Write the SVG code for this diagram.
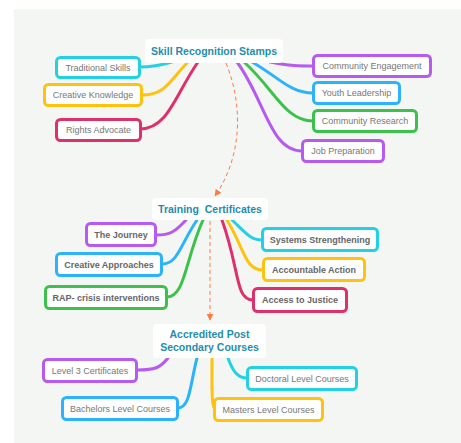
<svg xmlns="http://www.w3.org/2000/svg" width="461" height="443" viewBox="0 0 461 443">
<style>
.bg{fill:#f4f6f4}
.root{fill:#ffffff}
.rt{font-family:"Liberation Sans",Arial,sans-serif;font-size:10.5px;font-weight:bold;fill:#1f8dad;text-anchor:middle}
.box{fill:#ffffff;stroke-width:3}
.t{font-family:"Liberation Sans",Arial,sans-serif;font-size:9px;fill:#777777;text-anchor:middle}
.tb{font-family:"Liberation Sans",Arial,sans-serif;font-size:9px;font-weight:bold;fill:#666666;text-anchor:middle}
.c{fill:none;stroke-width:3;stroke-linecap:round}
.cyan{stroke:#22d2e4}.blue{stroke:#2db3fb}.yellow{stroke:#ffc20e}.pink{stroke:#e0306c}.purple{stroke:#b75bf0}.green{stroke:#3cc24c}
.dash{fill:none;stroke:#ff7a45;stroke-width:1;stroke-dasharray:4 3}
</style>
<defs>
<marker id="ah" viewBox="0 0 10 10" refX="9" refY="5" markerWidth="7" markerHeight="7" orient="auto" markerUnits="userSpaceOnUse">
<path d="M0,0 L10,5 L0,10 z" fill="#ff7a45"/>
</marker>
</defs>
<rect class="bg" x="14" y="9" width="447" height="434"/>
<g id="connectors">
<path class="c cyan" d="M172,62 C158,66 152,67 140,67"/>
<path class="c yellow" d="M188,62 C170,80 166,95 142,95"/>
<path class="c pink" d="M198,62 C175,95 168,129 140,129"/>
<path class="c purple" d="M270,62 C290,66 300,66 313,66"/>
<path class="c blue" d="M252,62 C280,78 290,93 313,93"/>
<path class="c green" d="M244,62 C275,90 285,121 313,121"/>
<path class="c purple" d="M237,62 C265,100 270,151 302,151"/>
<path class="dash" d="M226,63 C245,110 240,160 215,196" marker-end="url(#ah)"/>
<path class="c purple" d="M186,220 C175,232 170,235 156,235"/>
<path class="c blue" d="M197,220 C180,245 178,264 162,264"/>
<path class="c green" d="M203,220 C185,260 185,297 167,297"/>
<path class="c cyan" d="M232,220 C245,232 250,240 262,240"/>
<path class="c yellow" d="M227,220 C245,250 245,270 263,270"/>
<path class="c pink" d="M222,220 C240,270 235,300 253,300"/>
<path class="dash" d="M210,221 L210,320" marker-end="url(#ah)"/>
<path class="c purple" d="M168,358 C160,368 155,370 137,370"/>
<path class="c blue" d="M197,358 C190,385 190,408 178,408"/>
<path class="c yellow" d="M212,358 C212,385 211,410 216,410"/>
<path class="c cyan" d="M228,358 C233,372 238,378 247,378"/>
</g>
<g id="n-skill">
<rect class="root" x="145" y="39" width="138" height="24" rx="4"/>
<text class="rt" x="214" y="54.5">Skill Recognition Stamps</text>
</g>
<g id="n-traditional">
<rect class="box cyan" x="56.5" y="57.5" width="83" height="20" rx="4"/>
<text class="t" x="98" y="70.5">Traditional Skills</text>
</g>
<g id="n-creative-knowledge">
<rect class="box yellow" x="44.5" y="84.5" width="97" height="21" rx="4"/>
<text class="t" x="93" y="98">Creative Knowledge</text>
</g>
<g id="n-rights">
<rect class="box pink" x="56.5" y="119.5" width="84" height="21" rx="4"/>
<text class="t" x="98.5" y="133">Rights Advocate</text>
</g>
<g id="n-community-engagement">
<rect class="box purple" x="313.5" y="55.5" width="117" height="21" rx="4"/>
<text class="t" x="372" y="69">Community Engagement</text>
</g>
<g id="n-youth">
<rect class="box blue" x="313.5" y="82.5" width="86" height="21" rx="4"/>
<text class="t" x="356.5" y="96">Youth Leadership</text>
</g>
<g id="n-community-research">
<rect class="box green" x="313.5" y="110.5" width="103" height="21" rx="4"/>
<text class="t" x="365" y="124">Community Research</text>
</g>
<g id="n-job">
<rect class="box purple" x="302.5" y="140.5" width="81" height="21" rx="4"/>
<text class="t" x="343" y="154">Job Preparation</text>
</g>
<g id="n-training">
<rect class="root" x="152" y="198" width="116" height="22" rx="4"/>
<text class="rt" x="210" y="212.5" xml:space="preserve">Training  Certificates</text>
</g>
<g id="n-journey">
<rect class="box purple" x="86.5" y="223.5" width="69" height="22" rx="4"/>
<text class="tb" x="121" y="237.5">The Journey</text>
</g>
<g id="n-creative-approaches">
<rect class="box blue" x="56.5" y="253.5" width="105" height="22" rx="4"/>
<text class="tb" x="109" y="267.5">Creative Approaches</text>
</g>
<g id="n-rap">
<rect class="box green" x="45.5" y="286.5" width="121" height="22" rx="4"/>
<text class="tb" x="106" y="300.5">RAP- crisis interventions</text>
</g>
<g id="n-systems">
<rect class="box cyan" x="262.5" y="228.5" width="115" height="22" rx="4"/>
<text class="tb" x="320" y="242.5">Systems Strengthening</text>
</g>
<g id="n-accountable">
<rect class="box yellow" x="263.5" y="258.5" width="101" height="22" rx="4"/>
<text class="tb" x="314" y="272.5">Accountable Action</text>
</g>
<g id="n-access">
<rect class="box pink" x="253.5" y="288.5" width="93" height="23" rx="4"/>
<text class="tb" x="300" y="303">Access to Justice</text>
</g>
<g id="n-accredited">
<rect class="root" x="153" y="324" width="113" height="34" rx="4"/>
<text class="rt" x="209.5" y="337.5">Accredited Post</text>
<text class="rt" x="209.5" y="350.5">Secondary Courses</text>
</g>
<g id="n-level3">
<rect class="box purple" x="43.5" y="359.5" width="93" height="22" rx="4"/>
<text class="t" x="90" y="373.5">Level 3 Certificates</text>
</g>
<g id="n-bachelors">
<rect class="box blue" x="62.5" y="397.5" width="115" height="22" rx="4"/>
<text class="t" x="120" y="411.5">Bachelors Level Courses</text>
</g>
<g id="n-doctoral">
<rect class="box cyan" x="247.5" y="367.5" width="109" height="22" rx="4"/>
<text class="t" x="302" y="381.5">Doctoral Level Courses</text>
</g>
<g id="n-masters">
<rect class="box yellow" x="214.5" y="398.5" width="108" height="22" rx="4"/>
<text class="t" x="268.5" y="412.5">Masters Level Courses</text>
</g>
</svg>
